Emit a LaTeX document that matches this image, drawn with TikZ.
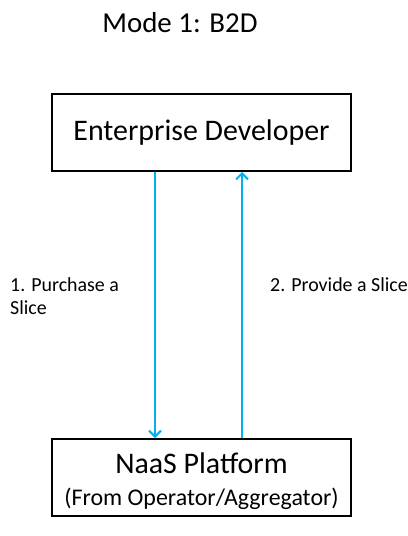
\documentclass[tikz,border=0pt]{standalone}
\usepackage{fontspec}
\setmainfont{Carlito}
\usetikzlibrary{arrows.meta}
\definecolor{arrowblue}{RGB}{0,176,240}
\tikzset{
  box/.style={draw=black, line width=2bp, minimum width=299bp, minimum height=77bp, inner sep=0pt, align=center},
  flow/.style={draw=arrowblue, line width=2bp, -{Straight Barb[length=6bp,width=12bp,line width=2bp]}},
  lbl/.style={font=\fontsize{20}{23}\selectfont, align=left, anchor=west, inner sep=0pt}
}
\begin{document}
\begin{tikzpicture}[x=1bp,y=-1bp]
\useasboundingbox (0,0) rectangle (407,536);
\node[font=\fontsize{29}{34}\selectfont] (title) at (180,23) {Mode 1: B2D};
\node[box, font=\fontsize{30}{36}\selectfont] (dev) at (201.5,132.5) {Enterprise Developer};
\node[box] (naas) at (201.5,477.5) {};
\node[align=center, inner sep=0pt, font=\fontsize{24}{32}\selectfont] (naastext) at ([yshift=-4bp]naas.center) {{\fontsize{30}{32}\selectfont NaaS Platform}\\(From Operator/Aggregator)};
\coordinate (l) at (155,0);
\coordinate (r) at (242,0);
\draw[flow] (dev.south -| l) -- (naas.north -| l);
\draw[flow] (naas.north -| r) -- (dev.south -| r);
\node[lbl] (purchase) at (10,296) {1. Purchase a\\Slice};
\node[lbl] (provide) at (270,285) {2. Provide a Slice};
\end{tikzpicture}
\end{document}
